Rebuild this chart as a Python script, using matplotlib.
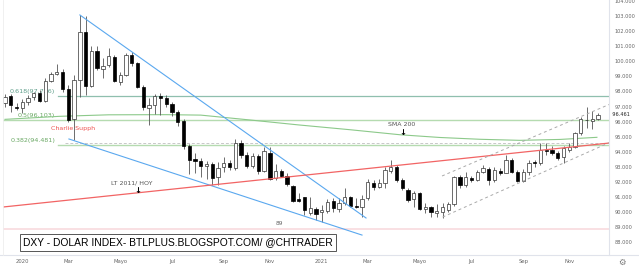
import numpy as np
import pandas as pd
import matplotlib
matplotlib.use("Agg")
import matplotlib.pyplot as plt
import matplotlib.dates as mdates

# weekly DXY candles
start_week = "2019-12-16"
opens = [97.21, 97.70, 96.99, 96.88, 97.32, 97.61, 97.87, 97.38, 98.71, 99.15,
         99.30, 98.16, 96.15, 98.75, 101.95, 98.36, 100.69, 99.45, 99.75, 100.26,
         98.60, 99.10, 100.41, 99.86, 98.31, 96.88, 97.10, 97.70, 97.54, 97.17,
         96.64, 96.04, 94.38, 93.50, 93.41, 93.06, 93.19, 92.31, 93.01, 93.28,
         92.91, 94.60, 93.79, 93.06, 93.72, 92.73, 93.92, 92.25, 92.73, 92.40,
         91.74, 90.85, 91.00, 89.93, 90.19, 90.03, 90.10, 90.76, 90.19, 90.59,
         90.99, 90.41, 90.32, 90.92, 91.95, 91.69, 91.92, 92.75, 93.01, 92.13,
         91.47, 90.85, 91.29, 90.19, 90.32, 89.98, 90.03, 90.15, 90.54, 92.31,
         91.80, 92.25, 92.13, 92.68, 92.84, 92.13, 92.75, 92.62, 93.46, 92.68,
         92.09, 92.68, 93.30, 93.24, 94.12, 94.12, 93.94, 93.68, 94.12, 94.34,
         95.23, 96.08, 96.06, 96.15]
highs = [97.83, 97.83, 97.21, 97.48, 97.76, 97.98, 98.09, 98.87, 99.30, 99.81,
         99.46, 98.42, 99.09, 103.06, 102.99, 101.00, 101.00, 100.20, 100.89, 100.40,
         99.30, 100.55, 100.60, 99.95, 98.40, 97.56, 97.83, 97.90, 97.76, 97.30,
         96.78, 96.20, 94.50, 93.92, 93.60, 93.40, 93.34, 93.30, 93.66, 93.46,
         94.83, 94.78, 94.00, 93.90, 93.85, 94.34, 94.30, 93.19, 92.84, 92.58,
         91.80, 91.25, 91.03, 91.03, 90.36, 90.48, 90.88, 90.94, 90.94, 91.58,
         91.07, 90.92, 91.14, 92.18, 92.13, 92.18, 93.01, 93.46, 93.13, 92.24,
         91.58, 91.42, 91.36, 90.59, 90.41, 90.54, 90.59, 90.70, 92.40, 92.46,
         92.68, 92.40, 92.79, 93.13, 92.97, 92.97, 92.91, 93.79, 93.57, 92.79,
         92.84, 93.46, 93.46, 94.56, 94.56, 94.40, 94.07, 94.38, 94.56, 95.33,
         96.28, 96.95, 96.72, 96.55]
lows = [96.99, 96.66, 96.77, 96.55, 97.10, 97.43, 97.32, 97.32, 98.64, 99.09,
        97.98, 95.95, 94.78, 97.60, 97.76, 98.29, 99.40, 98.90, 99.60, 98.60,
        98.40, 99.00, 99.70, 98.20, 96.80, 95.77, 96.50, 96.45, 96.99, 96.40,
        95.70, 94.20, 92.55, 92.60, 92.35, 92.20, 91.80, 91.80, 92.68, 92.79,
        92.79, 93.59, 92.90, 92.95, 92.50, 92.68, 92.13, 92.13, 92.31, 91.74,
        90.70, 90.70, 89.81, 89.81, 89.48, 89.37, 89.97, 90.03, 90.03, 90.48,
        90.32, 90.26, 89.70, 90.81, 91.47, 91.60, 91.60, 92.58, 92.02, 91.47,
        90.70, 90.36, 90.15, 89.93, 89.70, 89.66, 89.60, 90.03, 90.41, 91.58,
        91.69, 92.02, 92.09, 92.58, 91.80, 92.02, 92.46, 92.58, 92.58, 92.02,
        92.02, 92.46, 93.01, 93.13, 93.79, 93.80, 93.46, 93.24, 94.01, 94.23,
        95.11, 95.56, 95.49, 96.10]
closes = [97.65, 97.10, 96.88, 97.32, 97.58, 97.87, 97.38, 98.71, 99.15, 99.30,
          98.14, 96.11, 98.75, 101.95, 98.36, 100.69, 99.53, 99.70, 100.34, 98.69,
          99.10, 100.41, 99.86, 98.29, 96.97, 97.10, 97.70, 97.54, 97.17, 96.64,
          95.99, 94.38, 93.46, 93.41, 93.06, 93.20, 92.27, 92.91, 93.28, 93.01,
          94.56, 93.79, 93.06, 93.72, 92.73, 94.05, 92.18, 92.73, 92.40, 91.87,
          90.76, 90.76, 90.15, 90.26, 89.88, 90.16, 90.70, 90.26, 90.59, 91.03,
          90.41, 90.32, 90.85, 92.02, 91.69, 91.95, 92.79, 93.01, 92.13, 91.58,
          90.81, 91.29, 90.19, 90.32, 90.03, 90.08, 90.36, 90.54, 92.31, 91.80,
          92.31, 92.13, 92.68, 92.91, 92.13, 92.79, 92.58, 93.46, 92.68, 92.09,
          92.68, 93.24, 93.26, 94.12, 94.03, 93.94, 93.57, 94.23, 94.34, 95.23,
          96.15, 96.12, 96.15, 96.46]

# SMA 200 curve, sampled at candle indices
sma_idx = [0, 9.5, 18, 28, 34, 42.5, 51, 60, 68.6, 75.5, 82.5, 89.4, 96.4, 102.8]
sma_val = [96.15, 96.35, 96.45, 96.46, 96.43, 96.11, 95.78, 95.46, 95.13, 94.95,
           94.83, 94.76, 94.82, 94.96]

# fibonacci levels
fib_names = ["0.618(97.726)", "0.5(96.103)", "0.382(94.481)"]
fib_vals = [97.726, 96.103, 94.481]
last_price = 96.461

# drawn trendlines: (candle index, value) pairs
wedge_top = [(13.0, 103.06), (62.7, 89.62)]
wedge_bottom = [(11.1, 94.85), (62.0, 88.49)]
lt_line = [(-0.5, 90.34), (104.9, 94.58)]
chan_top = [(75.9, 92.40), (104.9, 97.13)]
chan_bottom = [(76.0, 89.68), (104.9, 94.60)]

tick_months = [(2020, 1), (2020, 3), (2020, 5), (2020, 7), (2020, 9), (2020, 11),
               (2021, 1), (2021, 3), (2021, 5), (2021, 7), (2021, 9), (2021, 11)]
tick_names = ["2020", "Mar", "Mayo", "Jul", "Sep", "Nov",
              "2021", "Mar", "Mayo", "Jul", "Sep", "Nov"]
y_ticks = list(range(88, 105))

dates = pd.date_range(start_week, periods=len(opens), freq="7D")
xd = mdates.date2num(dates.to_pydatetime())
d0 = xd[0]


def ix(i):
    return d0 + 7.0 * i


fig = plt.figure(figsize=(6.39, 2.70), dpi=100)
ax = fig.add_axes([3 / 639, 15 / 270, 606 / 639, 255 / 270])
ax.set_xlim(ix(-0.35), ix(104.9))
ax.set_ylim(87.17, 104.05)

# candles
o = np.array(opens)
c = np.array(closes)
up = c >= o
ax.vlines(xd, lows, highs, color="#555555", lw=0.6, zorder=3)
bottoms = np.minimum(o, c)
heights = np.maximum(np.abs(c - o), 0.04)
ax.bar(xd[up], heights[up], bottom=bottoms[up], width=4.0, color="white",
       edgecolor="#333333", lw=0.5, zorder=4)
ax.bar(xd[~up], heights[~up], bottom=bottoms[~up], width=4.0, color="black",
       edgecolor="black", lw=0.5, zorder=4)

# fibonacci lines
ax.plot([ix(9.2), ix(105)], [fib_vals[0]] * 2, color="#8fbfae", lw=0.9, zorder=2)
ax.plot([ix(-1), ix(105)], [fib_vals[1]] * 2, color="#b5dbb0", lw=1.0, zorder=2)
ax.plot([ix(9.2), ix(105)], [fib_vals[2]] * 2, color="#b5dbb0", lw=1.0, zorder=2)
ax.plot([ix(10.5), ix(105)], [94.60, 94.60], color="#c8c8c8", lw=0.7,
        ls=(0, (3, 2)), zorder=2)
fib_cols = ["#5e9e8a", "#6aa864", "#6aa864"]
for name, val, col in zip(fib_names, fib_vals, fib_cols):
    ax.text(ix(8.7), val + 0.28, name, color=col, fontsize=4.6, ha="right",
            va="center", zorder=1)

# pink support
ax.axhline(88.89, color="#f9dde0", lw=1.3, zorder=1)

# sma 200
ax.plot([ix(i) for i in sma_idx], sma_val, color="#8cc98a", lw=0.8, zorder=2)

# trendlines
for seg, col, ls, lw in [(wedge_top, "#5aa8ef", "-", 0.8),
                         (wedge_bottom, "#5aa8ef", "-", 0.8),
                         (lt_line, "#f26464", "-", 0.9),
                         (chan_top, "#aaaaaa", (0, (3, 3)), 0.7),
                         (chan_bottom, "#aaaaaa", (0, (3, 3)), 0.7)]:
    ax.plot([ix(seg[0][0]), ix(seg[1][0])], [seg[0][1], seg[1][1]],
            color=col, ls=ls, lw=lw, zorder=5)

# annotations
ax.text(ix(11.8), 95.56, "Charlie Supph", color="#ef5350", fontsize=4.5,
        ha="center", va="center")
ax.text(ix(22.0), 91.95, "LT 2011/ HOY", color="#555555", fontsize=4.5,
        ha="center", va="center")
ax.text(ix(23.1), 91.47, "\u2193", color="black", fontsize=6, fontweight="bold",
        ha="center", va="center", zorder=6)
ax.text(ix(68.8), 95.81, "SMA 200", color="#555555", fontsize=4.5,
        ha="center", va="center")
ax.text(ix(69.1), 95.26, "\u2193", color="black", fontsize=6, fontweight="bold",
        ha="center", va="center", zorder=6)
ax.text(ix(47.7), 89.25, "89", color="#666666", fontsize=4.2,
        ha="center", va="center")

# axes styling
for s in ["top", "left", "bottom"]:
    ax.spines[s].set_visible(False)
ax.spines["right"].set_color("#e0e3eb")
ax.spines["right"].set_linewidth(0.8)
ax.yaxis.tick_right()
ax.set_yticks(y_ticks)
ax.set_yticklabels(["%.3f" % v for v in y_ticks])
ax.tick_params(axis="y", length=0, pad=4, labelsize=3.6, labelcolor="#666666")

tick_pos = []
for (yy, mm) in tick_months:
    first = [d for d in dates if d.year == yy and d.month == mm][0]
    tick_pos.append(mdates.date2num(first.to_pydatetime()))
ax.set_xticks(tick_pos)
ax.set_xticklabels(tick_names)
ax.tick_params(axis="x", length=0, pad=3, labelsize=3.8, labelcolor="#666666")

ax.text(1.0, last_price, "  %.3f" % last_price, transform=ax.get_yaxis_transform(),
        fontsize=3.6, color="#222222", ha="left", va="center")

# frame lines of the chart widget
fig.add_artist(plt.Line2D([0, 1], [15 / 270, 15 / 270], color="#e0e3eb", lw=0.8))
fig.add_artist(plt.Line2D([3 / 639, 3 / 639], [15 / 270, 1], color="#eeeeee", lw=0.6))
fig.text(622 / 639, 1 - 262 / 270, "\u2699", fontsize=6, color="#777777",
         ha="center", va="center")

# title box
fig.text(178 / 639, 1 - 242.5 / 270, "DXY - DOLAR INDEX- BTLPLUS.BLOGSPOT.COM/ @CHTRADER",
         family="Liberation Sans", fontsize=7.4,
         color="black", ha="center", va="center",
         bbox=dict(boxstyle="square,pad=0.3", facecolor="white",
                   edgecolor="#555555", lw=0.7))

fig.savefig("out.png", dpi=100, facecolor="white")
